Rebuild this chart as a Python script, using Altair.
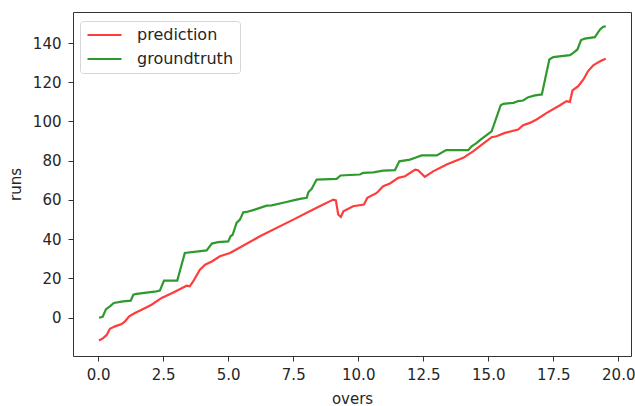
import altair as alt
import pandas as pd

gt_x = [0.03, 0.17, 0.30, 0.45, 0.60, 0.96, 1.25, 1.35, 1.48, 2.24, 2.37, 2.53, 3.04, 3.33, 4.17, 4.37,
        4.61, 5.00, 5.09, 5.17, 5.32, 5.45, 5.58, 5.71, 6.02, 6.22, 6.48, 6.67, 7.24, 7.50, 7.76, 8.02,
        8.08, 8.21, 8.40, 9.17, 9.32, 10.06, 10.19, 10.58, 10.96, 11.41, 11.58, 11.99, 12.19, 12.44,
        13.02, 13.38, 14.23, 14.36, 14.56, 14.68, 15.13, 15.48, 15.58, 15.97, 16.15, 16.34, 16.54, 16.80,
        17.06, 17.35, 17.50, 18.14, 18.27, 18.43, 18.57, 18.71, 19.10, 19.30, 19.42, 19.52]
gt_y = [0, 0.5, 4.4, 5.8, 7.5, 8.3, 8.7, 11.7, 12.2, 13.4, 13.8, 18.9, 18.9, 33, 34.3, 37.8,
        38.5, 38.9, 41.5, 42.3, 48.3, 50, 53.7, 53.9, 55.1, 56, 57.1, 57.3, 59, 59.8, 60.6, 61.1,
        63.9, 65.7, 70.4, 70.8, 72.5, 73, 73.8, 74.1, 75, 75.2, 79.7, 80.6, 81.5, 82.7,
        82.7, 85.4, 85.4, 87.4, 89.1, 90.5, 95, 108.3, 109, 109.5, 110.4, 110.7, 112.4, 113.3,
        113.8, 131.6, 132.8, 133.8, 135, 136.7, 141.5, 142.2, 143, 146.9, 148.3, 148.5]

pred_x = [0.03, 0.19, 0.33, 0.45, 0.65, 0.90, 1.03, 1.19, 1.41, 1.73, 2.05, 2.44, 2.89, 3.40, 3.52, 3.65,
          3.91, 4.11, 4.37, 4.68, 5.07, 6.22, 7.50, 8.40, 9.04, 9.14, 9.23, 9.33, 9.43, 9.80, 10.22,
          10.35, 10.71, 10.96, 11.22, 11.54, 11.80, 12.19, 12.30, 12.56, 12.88, 13.40, 14.04, 14.43,
          14.68, 15.13, 15.32, 15.64, 16.15, 16.34, 16.60, 16.86, 17.25, 17.76, 18.01, 18.14, 18.24,
          18.46, 18.66, 18.84, 19.04, 19.16, 19.36, 19.52]
pred_y = [-11.6, -10.4, -8.7, -5.6, -4.4, -3.2, -1.9, 0.7, 2.4, 4.4, 6.6, 10.1, 12.9, 16.3, 16, 18.5,
          24.5, 27, 28.7, 31.3, 33, 41.5, 50, 56, 60.2, 59.8, 52.6, 51.4, 54.2, 56.8, 57.7,
          61.1, 63.6, 67, 68.4, 71.3, 72.1, 75.5, 75.2, 71.8, 74.6, 78.1, 81.5, 84.9,
          87.4, 92, 92.5, 94.2, 95.9, 98.1, 99.3, 101, 104.4, 108.3, 110.4, 110, 115.8,
          118, 121.4, 125.7, 128.6, 129.6, 131.1, 132]

series_names = ["prediction", "groundtruth"]
series_colors = ["#ff3c3c", "#2e9a2e"]
x_ticks = [0, 2.5, 5, 7.5, 10, 12.5, 15, 17.5, 20]
y_ticks = [0, 20, 40, 60, 80, 100, 120, 140]

rows = []
for i, (x, y) in enumerate(zip(pred_x, pred_y)):
    rows.append({"overs": x, "runs": y, "series": "prediction", "order": i})
for i, (x, y) in enumerate(zip(gt_x, gt_y)):
    rows.append({"overs": x, "runs": y, "series": "groundtruth", "order": i})
df = pd.DataFrame(rows)

FONT = "DejaVu Sans"
TXT = "#262626"

chart = alt.Chart(df).mark_line(strokeWidth=2.2).encode(
    x=alt.X("overs:Q", scale=alt.Scale(domain=[-0.97, 20.49], nice=False, zero=False),
            axis=alt.Axis(values=x_ticks, format=".1f", title="overs", labelPadding=6,
                          titlePadding=9)),
    y=alt.Y("runs:Q", scale=alt.Scale(domain=[-19.5, 155.8], nice=False, zero=False),
            axis=alt.Axis(values=y_ticks, title="runs", labelPadding=7, titlePadding=9)),
    color=alt.Color("series:N", scale=alt.Scale(domain=series_names, range=series_colors),
                    legend=alt.Legend(title=None, orient="none", legendX=7, legendY=9,
                                      symbolType="stroke", symbolSize=1156, symbolStrokeWidth=2.2,
                                      clipHeight=16, labelFontSize=16, labelFont=FONT,
                                      labelColor=TXT, fillColor="white", strokeColor="#d6d6d6",
                                      cornerRadius=3, padding=6, rowPadding=8, labelOffset=14)),
    order="order:Q",
).properties(
    width=558, height=344,
    padding={"left": 73, "top": 12, "right": 4, "bottom": 50},
    autosize=alt.AutoSizeParams(type="none"),
).configure_view(
    stroke="#333", strokeWidth=1
).configure_axis(
    grid=False, domain=False, tickColor="#333", tickSize=5, tickWidth=1,
    labelFont=FONT, labelFontSize=15, labelColor=TXT,
    titleFont=FONT, titleFontSize=15, titleColor=TXT, titleFontWeight="normal",
)

chart.save("out.html", embed_options={"renderer": "svg", "actions": False})
